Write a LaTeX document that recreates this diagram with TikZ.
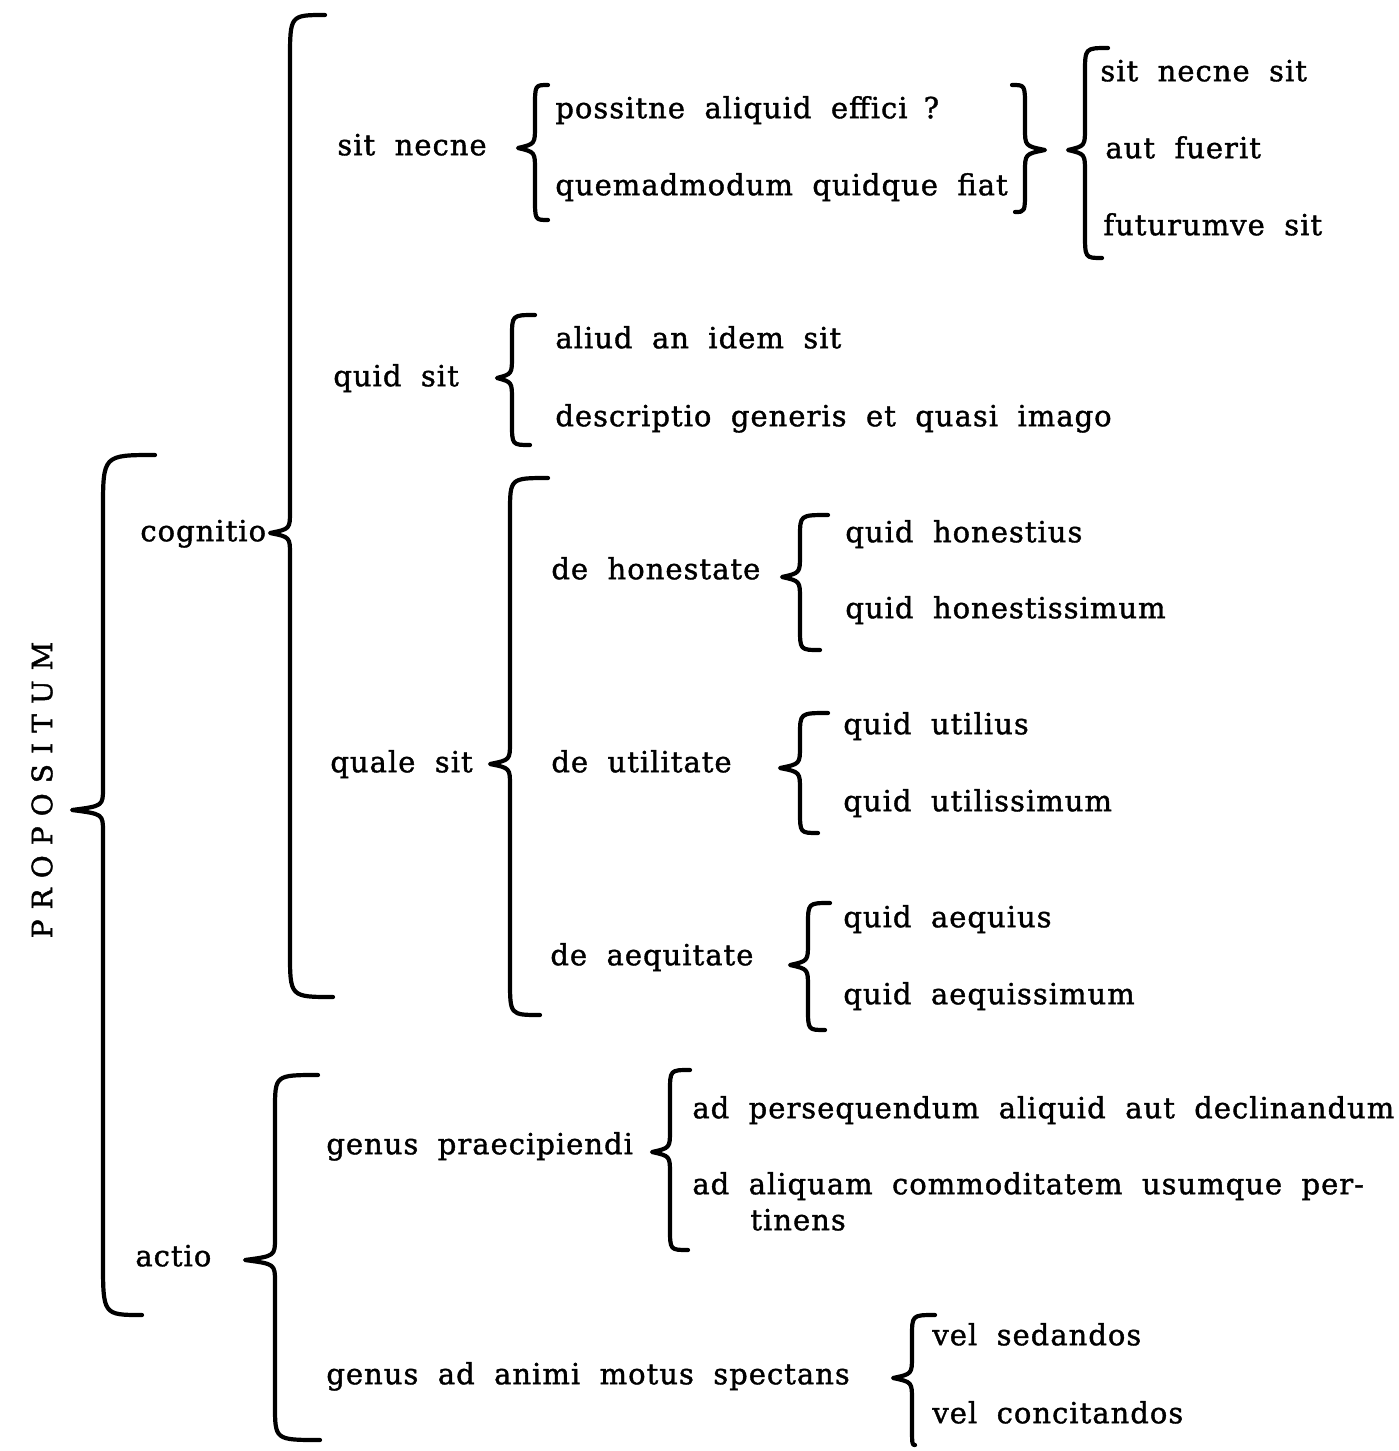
\documentclass[tikz,border=0pt]{standalone}
\usepackage{fontspec}
\setmainfont{DejaVu Serif}[WordSpace=1.9, LetterSpace=3.5, FakeBold=1.3]
\newfontfamily\capsfont{DejaVu Serif}[LetterSpace=36, FakeBold=1.5]
% curly brace: stem x, top y, tip y, bottom y, tip x, top end x, bottom end x, hook length
\newcommand\drawbrace[8]{%
  \draw[brace] (#6,#2) .. controls (#1,#2) .. (#1,#2+#8)
    -- (#1,#3-22) .. controls (#1,#3-4) .. (#5,#3)
    .. controls (#1,#3+4) .. (#1,#3+22)
    -- (#1,#4-#8) .. controls (#1,#4) .. (#7,#4);}
\begin{document}
\begin{tikzpicture}[x=0.5pt,y=-0.5pt,
  lbl/.style={anchor=mid west, inner sep=0pt, yshift=-1.5pt, font=\fontsize{14.5}{17}\selectfont},
  brace/.style={line width=2.1pt, line cap=round, line join=round}]
\useasboundingbox (0,0) rectangle (1398,1451);

% root label
\node[rotate=90, inner sep=0pt, font=\capsfont\fontsize{14}{16}\selectfont] (propositum) at (42,790) {PROPOSITUM};

% braces
\drawbrace{103}{455}{810}{1315}{72}{155}{142}{55}
\drawbrace{290}{15}{533}{997}{270}{325}{333}{45}
\drawbrace{535}{85}{148}{220}{518}{548}{548}{22}
\drawbrace{1025}{85}{150}{212}{1045}{1012}{1015}{22}
\drawbrace{1085}{48}{150}{258}{1068}{1108}{1102}{25}
\drawbrace{512}{315}{378}{445}{497}{535}{530}{22}
\drawbrace{510}{478}{764}{1015}{490}{548}{540}{35}
\drawbrace{800}{515}{577}{650}{782}{828}{820}{22}
\drawbrace{800}{713}{768}{833}{780}{828}{818}{22}
\drawbrace{808}{903}{965}{1030}{790}{830}{825}{22}
\drawbrace{275}{1075}{1260}{1440}{245}{318}{320}{35}
\drawbrace{670}{1070}{1152}{1250}{652}{690}{688}{22}
\drawbrace{912}{1315}{1378}{1445}{893}{935}{915}{22}

% labels
\node[lbl] (cognitio) at (140,533) {cognitio};
\node[lbl] (actio) at (135,1258) {actio};

\node[lbl] (sitnecne) at (337,147) {sit necne};
\node[lbl] (possitne) at (555,110) {possitne aliquid effici\hspace{8pt}?};
\node[lbl] (quemadmodum) at (555,187) {quemadmodum quidque fiat};
\node[lbl] (sitnecnesit) at (1100,73) {sit necne sit};
\node[lbl] (autfuerit) at (1105,150) {aut fuerit};
\node[lbl] (futurumve) at (1103,227) {futurumve sit};

\node[lbl] (quidsit) at (333,378) {quid sit};
\node[lbl] (aliud) at (555,340) {aliud an idem sit};
\node[lbl] (descriptio) at (555,418) {descriptio generis et quasi imago};

\node[lbl] (qualesit) at (330,764) {quale sit};
\node[lbl] (honestate) at (551,571) {de honestate};
\node[lbl] (honestius) at (845,534) {quid honestius};
\node[lbl] (honestissimum) at (845,610) {quid honestissimum};
\node[lbl] (utilitate) at (551,764) {de utilitate};
\node[lbl] (utilius) at (843,726) {quid utilius};
\node[lbl] (utilissimum) at (843,803) {quid utilissimum};
\node[lbl] (aequitate) at (550,957) {de aequitate};
\node[lbl] (aequius) at (843,919) {quid aequius};
\node[lbl] (aequissimum) at (843,996) {quid aequissimum};

\node[lbl] (praecipiendi) at (326,1146) {genus praecipiendi};
\node[lbl] (persequendum) at (692,1110) {ad persequendum aliquid aut declinandum};
\node[lbl] (aliquam) at (692,1186) {ad aliquam commoditatem usumque per-};
\node[lbl] (tinens) at (750,1222) {tinens};
\node[lbl] (animi) at (326,1376) {genus ad animi motus spectans};
\node[lbl] (sedandos) at (932,1337) {vel sedandos};
\node[lbl] (concitandos) at (932,1415) {vel concitandos};
\end{tikzpicture}
\end{document}
